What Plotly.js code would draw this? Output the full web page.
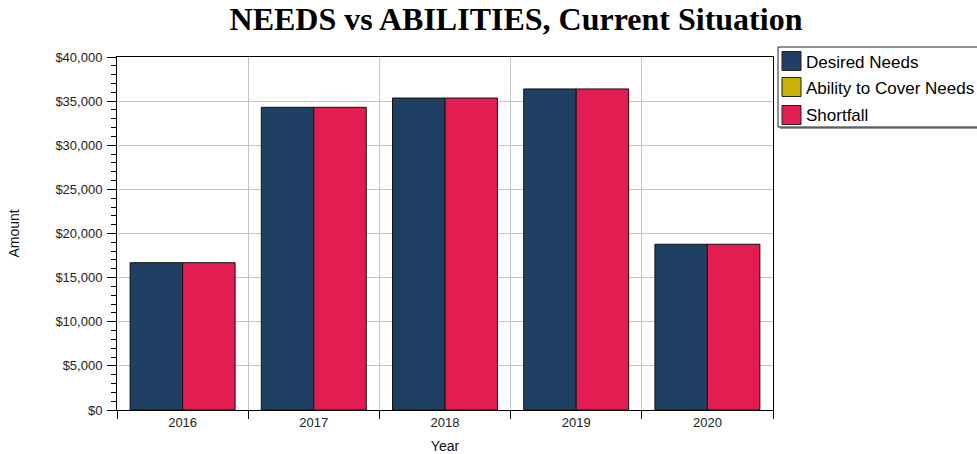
<!DOCTYPE html>
<html>
<head>
<meta charset="utf-8">
<script src="https://cdn.plot.ly/plotly-3.0.1.min.js"></script>
<style>
  html, body { margin: 0; padding: 0; background: #fff; }
  #chart { width: 977px; height: 454px; }
</style>
</head>
<body>
<div id="chart"></div>
<script>
const years = ["2016", "2017", "2018", "2019", "2020"];
const desiredNeeds = [16690, 34300, 35350, 36380, 18780];
const abilityToCover = [0, 0, 0, 0, 0];
const shortfall = [16690, 34300, 35350, 36380, 18780];
const seriesNames = ["Desired Needs", "Ability to Cover Needs", "Shortfall"];
const seriesColors = ["#1f3f63", "#ccb00a", "#e31d52"];
const yTickVals = [0, 5000, 10000, 15000, 20000, 25000, 30000, 35000, 40000];
const yTickText = yTickVals.map(v => "$" + v.toLocaleString("en-US"));

const traces = [
  {
    type: "bar", name: seriesNames[1], x: years, y: abilityToCover,
    width: 0.4, offset: -0.4,
    marker: { color: seriesColors[1], line: { width: 0 } },
    showlegend: false, hoverinfo: "skip"
  },
  {
    type: "bar", name: seriesNames[0], x: years, y: desiredNeeds,
    width: 0.4, offset: -0.4,
    marker: { color: seriesColors[0], line: { color: "#111", width: 1 } },
    showlegend: false
  },
  {
    type: "bar", name: seriesNames[2], x: years, y: shortfall,
    width: 0.4, offset: 0,
    marker: { color: seriesColors[2], line: { color: "#111", width: 1 } },
    showlegend: false
  }
];

const W = 977, H = 454;
const ml = 117, mr = 204, mt = 57, mb = 44;
const pw = W - ml - mr, ph = H - mt - mb;
const toPX = x => (x - ml) / pw;
const toPY = y => 1 - (y - mt) / ph;

// custom legend (box, shadow, swatches, labels)
const legX0 = 778, legY0 = 47, legX1 = 1000, legY1 = 127;
const shapes = [];
const annotations = [];
shapes.push({ type: "rect", xref: "paper", yref: "paper",
  x0: toPX(legX0 + 2), x1: toPX(legX1 + 2), y0: toPY(legY1 + 2), y1: toPY(legY0 + 2),
  fillcolor: "#9a9a9a", line: { width: 0 }, layer: "above" });
shapes.push({ type: "rect", xref: "paper", yref: "paper",
  x0: toPX(legX0), x1: toPX(legX1), y0: toPY(legY1), y1: toPY(legY0),
  fillcolor: "#ffffff", line: { color: "#222", width: 1 }, layer: "above" });

const rowCenters = [61, 87, 115];
[0, 1, 2].forEach((si, i) => {
  const cy = rowCenters[i];
  shapes.push({ type: "rect", xref: "paper", yref: "paper",
    x0: toPX(782), x1: toPX(801), y0: toPY(cy + 9.5), y1: toPY(cy - 9.5),
    fillcolor: seriesColors[si], line: { color: "#222", width: 1 }, layer: "above" });
  annotations.push({ xref: "paper", yref: "paper", x: toPX(804), y: toPY(cy + 1),
    xanchor: "left", yanchor: "middle", showarrow: false, text: seriesNames[si],
    font: { family: "Liberation Sans, Arial, sans-serif", size: 17, color: "#000" } });
});

const layout = {
  width: W, height: H,
  margin: { l: ml, r: mr, t: mt, b: mb, pad: 0 },
  paper_bgcolor: "#fff", plot_bgcolor: "#fff",
  barmode: "overlay",
  showlegend: false,
  title: {
    text: "NEEDS vs ABILITIES, Current Situation",
    font: { family: "Liberation Serif, Times New Roman, serif", size: 32, color: "#000", weight: "bold" },
    xref: "container", yref: "container", x: 516 / W, xanchor: "center",
    y: 1 - 19 / H, yanchor: "middle"
  },
  xaxis: {
    type: "category",
    tickson: "boundaries",
    ticks: "outside", ticklen: 8, tickcolor: "#000", tickwidth: 1,
    showline: true, linecolor: "#000", linewidth: 1, mirror: true,
    showgrid: true, gridcolor: "#c4c4c4", gridwidth: 1,
    tickfont: { family: "Liberation Sans, Arial, sans-serif", size: 13, color: "#222" },
    title: { text: "Year", standoff: 14, font: { family: "Liberation Sans, Arial, sans-serif", size: 14, color: "#111" } },
    automargin: false, fixedrange: true
  },
  yaxis: {
    range: [0, 40000],
    tickmode: "array",
    tickvals: yTickVals,
    ticktext: yTickText,
    ticks: "outside", ticklen: 9, tickcolor: "#000", tickwidth: 1,
    minor: { dtick: 1000, ticks: "outside", ticklen: 5, tickcolor: "#000", showgrid: false },
    showline: true, linecolor: "#000", linewidth: 1, mirror: true,
    showgrid: true, gridcolor: "#c4c4c4", gridwidth: 1,
    zeroline: false,
    ticklabelstandoff: 2,
    tickfont: { family: "Liberation Sans, Arial, sans-serif", size: 13, color: "#222" },
    title: { text: "Amount", standoff: 32, font: { family: "Liberation Sans, Arial, sans-serif", size: 14, color: "#111" } },
    automargin: false, fixedrange: true
  },
  shapes: shapes,
  annotations: annotations
};

Plotly.newPlot("chart", traces, layout, { displayModeBar: false, staticPlot: true });
</script>
</body>
</html>
